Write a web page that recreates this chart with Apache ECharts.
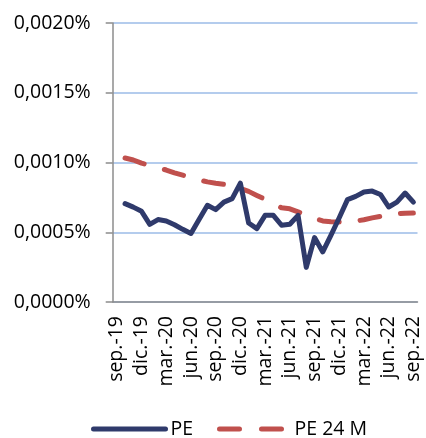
<!DOCTYPE html>
<html>
<head>
<meta charset="utf-8">
<script src="https://cdn.jsdelivr.net/npm/echarts@6/dist/echarts.min.js"></script>
<style>html,body{margin:0;padding:0;background:#fff}#c{width:426px;height:438px}</style>
</head>
<body>
<div id="c"></div>
<script>
const categories = ['sep.-19','oct.-19','nov.-19','dic.-19','ene.-20','feb.-20','mar.-20','abr.-20','may.-20','jun.-20','jul.-20','ago.-20','sep.-20','oct.-20','nov.-20','dic.-20','ene.-21','feb.-21','mar.-21','abr.-21','may.-21','jun.-21','jul.-21','ago.-21','sep.-21','oct.-21','nov.-21','dic.-21','ene.-22','feb.-22','mar.-22','abr.-22','may.-22','jun.-22','jul.-22','ago.-22','sep.-22'];
const pe = [null,0.000705,0.00068,0.00065,0.000557,0.000591,0.000581,0.000554,0.000521,0.000491,0.000593,0.000693,0.000662,0.000716,0.000741,0.000852,0.000566,0.000526,0.000621,0.000621,0.00055,0.000557,0.000621,0.000248,0.000462,0.000359,0.000479,0.000604,0.000734,0.000757,0.000788,0.000795,0.000771,0.000681,0.000716,0.000781,0.000716];
const pe24 = [null,0.001032,0.001018,0.000995,0.000979,0.000962,0.000946,0.000926,0.000909,0.000893,0.000875,0.000861,0.000851,0.000843,0.000832,0.000814,0.000793,0.000764,0.000736,0.000711,0.000675,0.000668,0.000646,0.000621,0.0006,0.000581,0.000576,0.000573,0.000575,0.00058,0.00059,0.000603,0.000614,0.000627,0.000632,0.000637,0.000638];
const yTicks = [0, 0.0005, 0.001, 0.0015, 0.002];

const FONT = '"Open Sans", "Noto Sans", sans-serif';
const chart = echarts.init(document.getElementById('c'), null, {renderer: 'canvas'});
chart.setOption({
  animation: false,
  backgroundColor: '#fff',
  grid: {left: 112.7, top: 23, right: 8.5, bottom: 136, containLabel: false},
  xAxis: {
    type: 'category',
    data: categories,
    boundaryGap: true,
    axisLine: {lineStyle: {color: '#8c8c8c', width: 1.5}},
    axisTick: {interval: 2, length: 6, lineStyle: {color: '#8c8c8c', width: 1.5}},
    axisLabel: {interval: 2, rotate: 90, margin: 14, fontSize: 19.5, color: '#000', fontFamily: FONT},
    splitLine: {show: false}
  },
  yAxis: {
    type: 'value',
    min: yTicks[0], max: yTicks[yTicks.length-1], interval: 0.0005,
    axisLine: {show: true, lineStyle: {color: '#8c8c8c', width: 1.5}},
    axisTick: {show: true, length: 7, lineStyle: {color: '#8c8c8c', width: 1.5}},
    axisLabel: {margin: 22, fontSize: 19.5, color: '#000', fontFamily: FONT,
      formatter: v => v.toFixed(4).replace('.', ',') + '%'},
    splitLine: {show: true, lineStyle: {color: '#b4cced', width: 2}}
  },
  legend: [
    {data: ['PE'], left: 86, top: 414, itemWidth: 72, itemHeight: 14,
      itemStyle: {opacity: 0}, lineStyle: {width: 5, cap: 'round'},
      textStyle: {fontSize: 19.5, color: '#000', fontFamily: FONT}},
    {data: [{name: 'PE 24 M', lineStyle: {type: [20, 22], width: 5, cap: 'round'}}], left: 212, top: 414, itemWidth: 70, itemHeight: 14,
      itemStyle: {opacity: 0}, lineStyle: {width: 5, cap: 'round'},
      textStyle: {fontSize: 19.5, color: '#000', fontFamily: FONT}}
  ],
  series: [
    {name: 'PE', type: 'line', data: pe, symbol: 'none', connectNulls: false, z: 3,
      lineStyle: {color: '#2f3a6b', width: 5, cap: 'round', join: 'round'}, itemStyle: {color: '#2f3a6b'}},
    {name: 'PE 24 M', type: 'line', data: pe24, symbol: 'none', z: 2,
      lineStyle: {color: '#c0504d', width: 5, type: [20, 21], cap: 'round', join: 'round'}, itemStyle: {color: '#c0504d'}}
  ]
});
</script>
</body>
</html>
